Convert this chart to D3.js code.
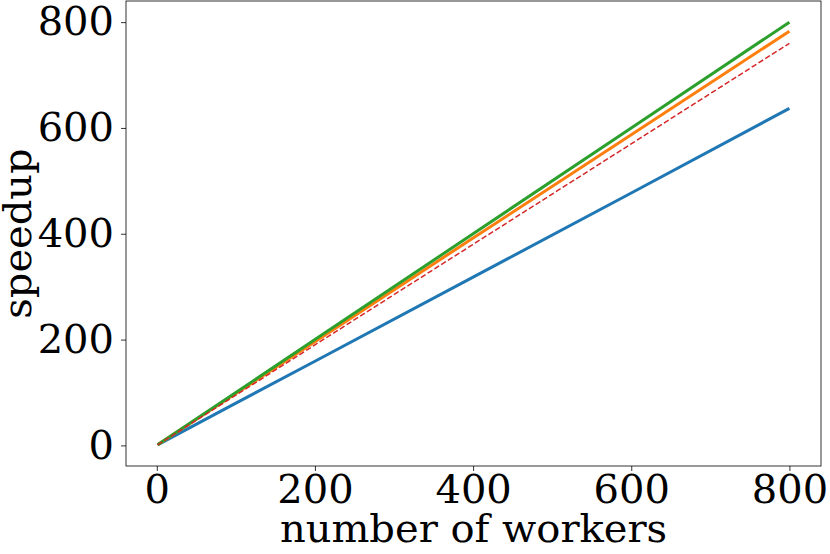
<!DOCTYPE html>
<html><head><meta charset="utf-8">
<script src="https://cdn.jsdelivr.net/npm/d3@7"></script>
<style>body{margin:0;background:#fff}svg{display:block}</style>
</head><body>
<script>
const workers = [1, 100, 200, 400, 600, 800];
const seriesBlue = [1, 80, 159, 318, 477, 637];
const seriesOrange = [1, 98, 196, 392, 587, 783];
const seriesGreen = [1, 100, 200, 400, 600, 800];
const seriesRed = [1, 95, 190, 380, 570, 760];
const xTicks = [0, 200, 400, 600, 800];
const yTicks = [0, 200, 400, 600, 800];

const W = 830, H = 554;
const m = {left: 126, right: 821, top: 1, bottom: 466};
const svg = d3.select("body").append("svg").attr("width", W).attr("height", H);
const x = d3.scaleLinear().domain([-38.95, 839.95]).range([m.left, m.right]);
const y = d3.scaleLinear().domain([-38.95, 839.95]).range([m.bottom, m.top]);

const font = "DejaVu Serif";
const fs = 40;
const xAxis = svg.append("g").attr("transform", `translate(0,${m.bottom})`)
  .call(d3.axisBottom(x).tickValues(xTicks).tickSize(5).tickPadding(4).tickFormat(d3.format("d")));
const yAxis = svg.append("g").attr("transform", `translate(${m.left},0)`)
  .call(d3.axisLeft(y).tickValues(yTicks).tickSize(5).tickPadding(7).tickFormat(d3.format("d")));
[xAxis, yAxis].forEach(a => {
  a.select(".domain").remove();
  a.selectAll("text").attr("font-family", font).attr("font-size", fs).attr("fill", "#000");
  a.selectAll("line").attr("stroke", "#000").attr("stroke-width", 0.8);
});
svg.append("rect").attr("x", m.left).attr("y", m.top).attr("width", m.right - m.left).attr("height", m.bottom - m.top)
  .attr("fill", "none").attr("stroke", "#000").attr("stroke-width", 0.8);

const line = d3.line().x((d, i) => x(workers[i])).y(d => y(d));
const series = [
  {v: seriesBlue, c: "#1f77b4", w: 3, dash: null},
  {v: seriesOrange, c: "#ff7f0e", w: 3, dash: null},
  {v: seriesGreen, c: "#2ca02c", w: 3, dash: null},
  {v: seriesRed, c: "#d62728", w: 1.5, dash: "5.5,2.5"}
];
series.forEach(s => {
  svg.append("path").attr("d", line(s.v)).attr("fill", "none").attr("stroke", s.c)
    .attr("stroke-width", s.w).attr("stroke-dasharray", s.dash);
});

svg.append("text").attr("x", (m.left + m.right) / 2).attr("y", 542).attr("text-anchor", "middle")
  .attr("font-family", font).attr("font-size", fs).text("number of workers");
svg.append("text").attr("transform", `translate(31,${(m.top + m.bottom) / 2}) rotate(-90)`)
  .attr("text-anchor", "middle").attr("font-family", font).attr("font-size", fs).text("speedup");
</script>
</body></html>
